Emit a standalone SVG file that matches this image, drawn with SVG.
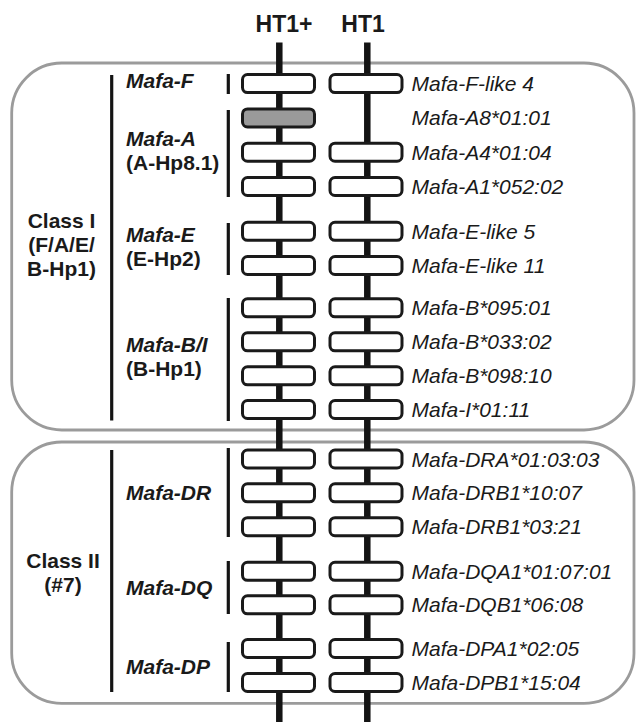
<svg xmlns="http://www.w3.org/2000/svg" width="636" height="722" viewBox="0 0 636 722">
<style>
.frame{fill:none;stroke:#9b9b9b;stroke-width:2.8}
.chr{stroke:#141414;stroke-width:6.5}
.bar{stroke:#141414;stroke-width:3.2}
.box{fill:#fff;stroke:#1a1a1a;stroke-width:3}
.gbox{fill:#9a9a9a;stroke:#1a1a1a;stroke-width:3}
.hd{font-family:"Liberation Sans",Arial,sans-serif;font-weight:bold;font-size:23px;fill:#1a1a1a;text-anchor:middle}
.cls{font-family:"Liberation Sans",Arial,sans-serif;font-weight:bold;font-size:21px;fill:#1a1a1a;text-anchor:middle}
.gn{font-family:"Liberation Sans",Arial,sans-serif;font-weight:bold;font-style:italic;font-size:21px;fill:#1a1a1a}
.hp{font-family:"Liberation Sans",Arial,sans-serif;font-weight:bold;font-size:21px;fill:#1a1a1a}
.al{font-family:"Liberation Sans",Arial,sans-serif;font-style:italic;font-size:21px;fill:#1a1a1a}
</style>
<rect width="636" height="722" fill="#fff"/>
<g id="class-I-frame"><rect class="frame" x="11.7" y="63" width="622.3" height="367" rx="50" ry="50"/></g>
<g id="class-II-frame"><rect class="frame" x="11.7" y="442" width="622.3" height="261.3" rx="50" ry="50"/></g>
<g id="headers">
<text class="hd" x="284" y="32">HT1+</text>
<text class="hd" x="363" y="32">HT1</text>
</g>
<g id="connectors">
<line class="chr" x1="279.3" y1="42.5" x2="279.3" y2="722"/>
<line class="chr" x1="367.3" y1="42.5" x2="367.3" y2="722"/>
</g>
<g id="brackets">
<line class="bar" x1="111.7" y1="75" x2="111.7" y2="420.5"/>
<line class="bar" x1="111.7" y1="450" x2="111.7" y2="692"/>
<line class="bar" x1="228.3" y1="74" x2="228.3" y2="94"/>
<line class="bar" x1="228.3" y1="110" x2="228.3" y2="197"/>
<line class="bar" x1="228.3" y1="223" x2="228.3" y2="275"/>
<line class="bar" x1="228.3" y1="298" x2="228.3" y2="421"/>
<line class="bar" x1="228.3" y1="448" x2="228.3" y2="537"/>
<line class="bar" x1="228.3" y1="561" x2="228.3" y2="614"/>
<line class="bar" x1="228.3" y1="642" x2="228.3" y2="692"/>
</g>
<g id="class-labels">
<text class="cls" x="61.5" y="228">Class I</text>
<text class="cls" x="61.5" y="252">(F/A/E/</text>
<text class="cls" x="61.5" y="276">B-Hp1)</text>
<text class="cls" x="63" y="568">Class II</text>
<text class="cls" x="63" y="592">(#7)</text>
</g>
<g id="gene-labels">
<text class="gn" x="126" y="87.5">Mafa-F</text>
<text class="gn" x="126" y="146">Mafa-A</text>
<text class="hp" x="126" y="170">(A-Hp8.1)</text>
<text class="gn" x="126" y="242">Mafa-E</text>
<text class="hp" x="126" y="266">(E-Hp2)</text>
<text class="gn" x="126" y="352">Mafa-B/I</text>
<text class="hp" x="126" y="376">(B-Hp1)</text>
<text class="gn" x="126" y="500">Mafa-DR</text>
<text class="gn" x="126" y="595">Mafa-DQ</text>
<text class="gn" x="126" y="674">Mafa-DP</text>
</g>
<g id="row-F4"><rect class="box" x="242.5" y="74.6" width="72" height="18" rx="5"/><rect class="box" x="330" y="74.6" width="72" height="18" rx="5"/><text class="al" x="411.5" y="91.1">Mafa-F-like 4</text></g>
<g id="row-A8"><rect class="gbox" x="242.5" y="108.9" width="72" height="18" rx="5"/><text class="al" x="411.5" y="125.4">Mafa-A8*01:01</text></g>
<g id="row-A4"><rect class="box" x="242.5" y="143.2" width="72" height="18" rx="5"/><rect class="box" x="330" y="143.2" width="72" height="18" rx="5"/><text class="al" x="411.5" y="159.7">Mafa-A4*01:04</text></g>
<g id="row-A1"><rect class="box" x="242.5" y="177.5" width="72" height="18" rx="5"/><rect class="box" x="330" y="177.5" width="72" height="18" rx="5"/><text class="al" x="411.5" y="194">Mafa-A1*052:02</text></g>
<g id="row-E5"><rect class="box" x="242.5" y="222.3" width="72" height="18" rx="5"/><rect class="box" x="330" y="222.3" width="72" height="18" rx="5"/><text class="al" x="411.5" y="238.8">Mafa-E-like 5</text></g>
<g id="row-E11"><rect class="box" x="242.5" y="256.5" width="72" height="18" rx="5"/><rect class="box" x="330" y="256.5" width="72" height="18" rx="5"/><text class="al" x="411.5" y="273">Mafa-E-like 11</text></g>
<g id="row-B095"><rect class="box" x="242.5" y="298.8" width="72" height="18" rx="5"/><rect class="box" x="330" y="298.8" width="72" height="18" rx="5"/><text class="al" x="411.5" y="315.3">Mafa-B*095:01</text></g>
<g id="row-B033"><rect class="box" x="242.5" y="332.8" width="72" height="18" rx="5"/><rect class="box" x="330" y="332.8" width="72" height="18" rx="5"/><text class="al" x="411.5" y="349.3">Mafa-B*033:02</text></g>
<g id="row-B098"><rect class="box" x="242.5" y="366.8" width="72" height="18" rx="5"/><rect class="box" x="330" y="366.8" width="72" height="18" rx="5"/><text class="al" x="411.5" y="383.3">Mafa-B*098:10</text></g>
<g id="row-I01"><rect class="box" x="242.5" y="400.5" width="72" height="18" rx="5"/><rect class="box" x="330" y="400.5" width="72" height="18" rx="5"/><text class="al" x="411.5" y="417">Mafa-I*01:11</text></g>
<g id="row-DRA"><rect class="box" x="242.5" y="450" width="72" height="18" rx="5"/><rect class="box" x="330" y="450" width="72" height="18" rx="5"/><text class="al" x="411.5" y="466.5">Mafa-DRA*01:03:03</text></g>
<g id="row-DRB10"><rect class="box" x="242.5" y="483.8" width="72" height="18" rx="5"/><rect class="box" x="330" y="483.8" width="72" height="18" rx="5"/><text class="al" x="411.5" y="500.3">Mafa-DRB1*10:07</text></g>
<g id="row-DRB03"><rect class="box" x="242.5" y="517.7" width="72" height="18" rx="5"/><rect class="box" x="330" y="517.7" width="72" height="18" rx="5"/><text class="al" x="411.5" y="534.2">Mafa-DRB1*03:21</text></g>
<g id="row-DQA"><rect class="box" x="242.5" y="562.3" width="72" height="18" rx="5"/><rect class="box" x="330" y="562.3" width="72" height="18" rx="5"/><text class="al" x="411.5" y="578.8">Mafa-DQA1*01:07:01</text></g>
<g id="row-DQB"><rect class="box" x="242.5" y="595.8" width="72" height="18" rx="5"/><rect class="box" x="330" y="595.8" width="72" height="18" rx="5"/><text class="al" x="411.5" y="612.3">Mafa-DQB1*06:08</text></g>
<g id="row-DPA"><rect class="box" x="242.5" y="639.5" width="72" height="18" rx="5"/><rect class="box" x="330" y="639.5" width="72" height="18" rx="5"/><text class="al" x="411.5" y="656">Mafa-DPA1*02:05</text></g>
<g id="row-DPB"><rect class="box" x="242.5" y="673.5" width="72" height="18" rx="5"/><rect class="box" x="330" y="673.5" width="72" height="18" rx="5"/><text class="al" x="411.5" y="690">Mafa-DPB1*15:04</text></g>
</svg>
